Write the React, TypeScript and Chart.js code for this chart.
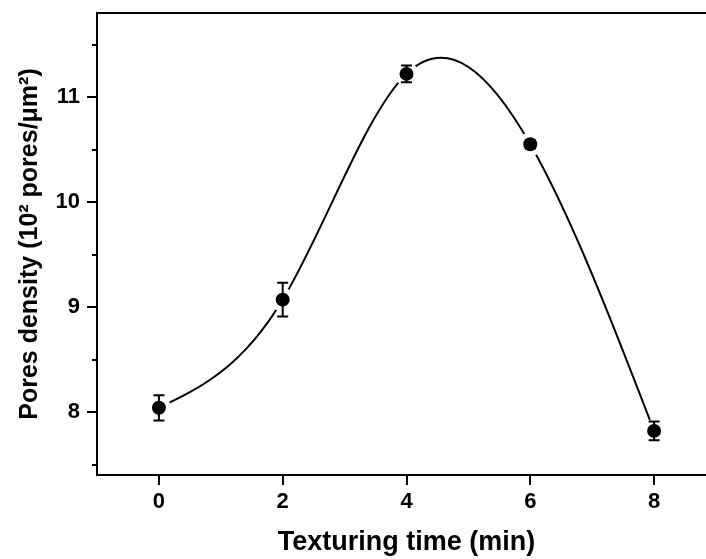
import React, { useEffect, useRef } from "react";
import { Chart, registerables } from "chart.js";

Chart.register(...registerables);

// ---- data ----
const TIMES = [0, 2, 4, 6, 8];
const DENSITY = [8.04, 9.07, 11.22, 10.55, 7.82];
const ERRORS = [0.12, 0.16, 0.08, 0.04, 0.09];
const X_TICKS = [0, 2, 4, 6, 8];
const Y_TICKS = [8, 9, 10, 11];
const Y_MINOR = [7.5, 8.5, 9.5, 10.5, 11.5];
const X_TITLE = "Texturing time (min)";
const Y_TITLE = "Pores density (10² pores/μm²)";

const FONT = "'Liberation Sans', Arial, Helvetica, sans-serif";

// natural cubic spline: derivatives at the knots
function splineDerivs(xs: number[], ys: number[]): number[] {
  const n = xs.length - 1;
  const h: number[] = [];
  for (let i = 0; i < n; i++) h.push(xs[i + 1] - xs[i]);
  const M = new Array(n + 1).fill(0);
  if (n >= 2) {
    const a: number[] = [], b: number[] = [], c: number[] = [], d: number[] = [];
    for (let i = 1; i < n; i++) {
      a.push(h[i - 1]);
      b.push(2 * (h[i - 1] + h[i]));
      c.push(h[i]);
      d.push(6 * ((ys[i + 1] - ys[i]) / h[i] - (ys[i] - ys[i - 1]) / h[i - 1]));
    }
    const m = b.length;
    for (let i = 1; i < m; i++) {
      const w = a[i] / b[i - 1];
      b[i] -= w * c[i - 1];
      d[i] -= w * d[i - 1];
    }
    const sol = new Array(m).fill(0);
    sol[m - 1] = d[m - 1] / b[m - 1];
    for (let i = m - 2; i >= 0; i--) sol[i] = (d[i] - c[i] * sol[i + 1]) / b[i];
    for (let i = 1; i < n; i++) M[i] = sol[i - 1];
  }
  const der: number[] = [];
  for (let i = 0; i < n; i++) {
    der.push((ys[i + 1] - ys[i]) / h[i] - (h[i] * (2 * M[i] + M[i + 1])) / 6);
  }
  der.push((ys[n] - ys[n - 1]) / h[n - 1] + (h[n - 1] * (M[n - 1] + 2 * M[n])) / 6);
  return der;
}

const splinePlugin = {
  id: "splineCurve",
  beforeDatasetsDraw(chart: any) {
    const { ctx, scales } = chart;
    const xs = scales.x, ys = scales.y;
    const der = splineDerivs(TIMES, DENSITY);
    const px = (v: number) => xs.getPixelForValue(v);
    const py = (v: number) => ys.getPixelForValue(v);
    ctx.save();
    ctx.beginPath();
    ctx.moveTo(px(TIMES[0]), py(DENSITY[0]));
    for (let i = 0; i < TIMES.length - 1; i++) {
      const h = TIMES[i + 1] - TIMES[i];
      ctx.bezierCurveTo(
        px(TIMES[i] + h / 3), py(DENSITY[i] + (der[i] * h) / 3),
        px(TIMES[i + 1] - h / 3), py(DENSITY[i + 1] - (der[i + 1] * h) / 3),
        px(TIMES[i + 1]), py(DENSITY[i + 1])
      );
    }
    ctx.lineWidth = 2;
    ctx.strokeStyle = "#000";
    ctx.stroke();
    ctx.restore();
  },
};

const decorPlugin = {
  id: "decor",
  afterDatasetsDraw(chart: any) {
    const { ctx, scales, chartArea } = chart;
    const xs = scales.x, ys = scales.y;
    ctx.save();
    ctx.strokeStyle = "#000";
    ctx.lineWidth = 2;
    // error bars
    for (let i = 0; i < TIMES.length; i++) {
      const x = xs.getPixelForValue(TIMES[i]);
      const yt = ys.getPixelForValue(DENSITY[i] + ERRORS[i]);
      const yb = ys.getPixelForValue(DENSITY[i] - ERRORS[i]);
      ctx.beginPath();
      ctx.moveTo(x, yt);
      ctx.lineTo(x, yb);
      ctx.moveTo(x - 5.5, yt);
      ctx.lineTo(x + 5.5, yt);
      ctx.moveTo(x - 5.5, yb);
      ctx.lineTo(x + 5.5, yb);
      ctx.stroke();
    }
    // minor y ticks
    ctx.beginPath();
    for (const v of Y_MINOR) {
      const y = Math.round(ys.getPixelForValue(v));
      ctx.moveTo(chartArea.left - 5, y);
      ctx.lineTo(chartArea.left, y);
    }
    ctx.stroke();
    // top + right frame
    ctx.beginPath();
    ctx.moveTo(chartArea.left - 1, chartArea.top);
    ctx.lineTo(chartArea.right, chartArea.top);
    ctx.lineTo(chartArea.right, chartArea.bottom);
    ctx.stroke();
    ctx.restore();
  },
};

export default function App() {
  const ref = useRef<HTMLCanvasElement | null>(null);
  useEffect(() => {
    if (!ref.current) return;
    const chart = new Chart(ref.current, {
      type: "scatter",
      data: {
        datasets: [
          {
            data: TIMES.map((t, i) => ({ x: t, y: DENSITY[i] })),
            showLine: false,
            pointRadius: 9.5,
            pointHoverRadius: 9.5,
            pointBackgroundColor: "#000",
            pointBorderColor: "#fff",
            pointBorderWidth: 5,
          },
        ],
      },
      options: {
        responsive: false,
        animation: false,
        events: [],
        layout: { autoPadding: false, padding: { top: 13, right: 0, left: 0, bottom: 0 } },
        plugins: { legend: { display: false }, tooltip: { enabled: false } },
        scales: {
          x: {
            type: "linear",
            min: -1,
            max: 9,
            afterBuildTicks: (s: any) => {
              s.ticks = X_TICKS.map((v) => ({ value: v }));
            },
            afterFit: (s: any) => {
              s.height = 84;
              s.paddingLeft = 0;
              s.paddingRight = 0;
            },
            grid: {
              drawOnChartArea: false,
              tickLength: 10,
              lineWidth: 2,
              tickColor: "#000",
            },
            border: { color: "#000", width: 2 },
            ticks: {
              color: "#000",
              padding: 4,
              font: { family: FONT, size: 22, weight: "bold" },
              callback: (v: any) => String(v),
            },
            title: {
              display: true,
              text: X_TITLE,
              color: "#000",
              font: { family: FONT, size: 27, weight: "bold" },
              padding: { top: 0, bottom: 0 },
            },
          },
          y: {
            type: "linear",
            min: 7.4,
            max: 11.8,
            afterBuildTicks: (s: any) => {
              s.ticks = Y_TICKS.map((v) => ({ value: v }));
            },
            afterFit: (s: any) => {
              s.width = 97;
              s.paddingTop = 0;
              s.paddingBottom = 0;
            },
            grid: {
              drawOnChartArea: false,
              tickLength: 10,
              lineWidth: 2,
              tickColor: "#000",
            },
            border: { color: "#000", width: 2 },
            ticks: {
              color: "#000",
              padding: 7,
              font: { family: FONT, size: 22, weight: "bold" },
              callback: (v: any) => String(v),
            },
            title: {
              display: true,
              text: Y_TITLE,
              color: "#000",
              font: { family: FONT, size: 25, weight: "bold" },
              padding: { top: 15, bottom: 0 },
            },
          },
        },
      },
      plugins: [splinePlugin, decorPlugin],
    });
    return () => chart.destroy();
  }, []);

  return (
    <div
      style={{
        position: "fixed",
        left: 0,
        top: 0,
        width: 706,
        height: 559,
        overflow: "hidden",
        background: "#fff",
      }}
    >
      <canvas ref={ref} width={716} height={559} />
    </div>
  );
}
